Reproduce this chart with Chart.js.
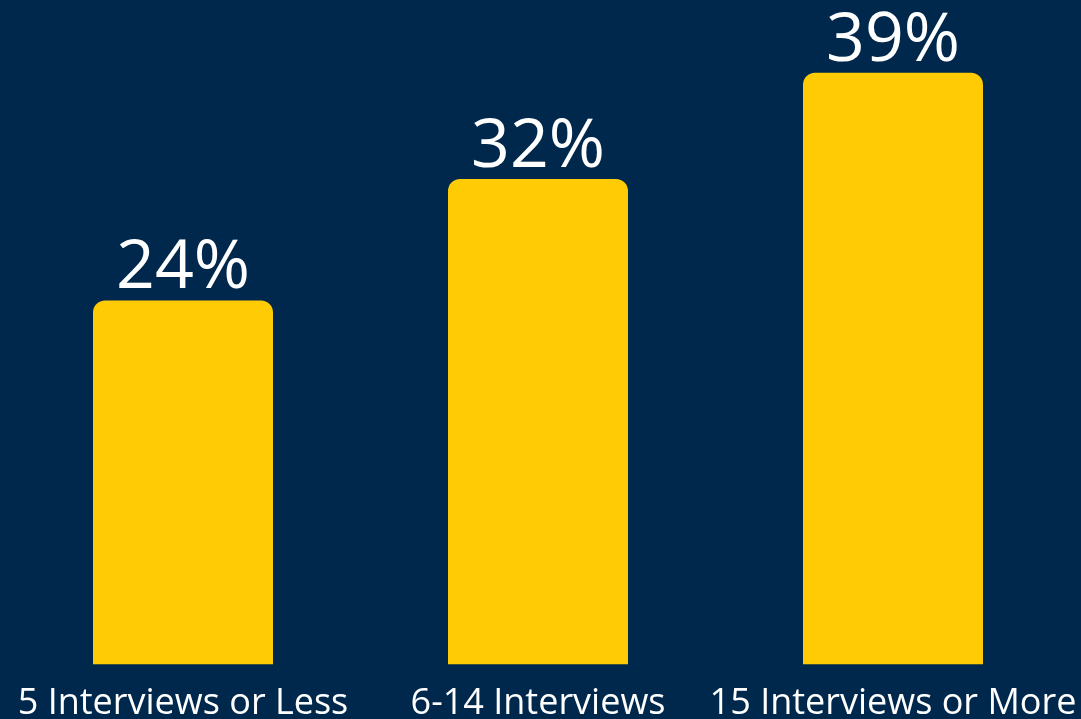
<!DOCTYPE html>
<html>
<head>
<meta charset="utf-8">
<script src="https://cdn.jsdelivr.net/npm/chart.js@4.4.1/dist/chart.umd.min.js"></script>
<style>
  html, body { margin: 0; padding: 0; background: #00284C; }
  #wrap { width: 1081px; height: 719px; position: relative; }
</style>
</head>
<body>
<div id="wrap"><canvas id="c" width="1081" height="719"></canvas></div>
<script>
const categories = ["5 Interviews or Less", "6-14 Interviews", "15 Interviews or More"];
const values = [24, 32, 39];
const valueLabels = ["24%", "32%", "39%"];

const valueLabelPlugin = {
  id: 'valueLabels',
  afterDatasetsDraw(chart) {
    const ctx = chart.ctx;
    const meta = chart.getDatasetMeta(0);
    ctx.save();
    ctx.fillStyle = '#FFFFFF';
    ctx.font = '400 68px "Open Sans"';
    ctx.textAlign = 'center';
    ctx.textBaseline = 'alphabetic';
    meta.data.forEach((bar, i) => {
      ctx.fillText(valueLabels[i], bar.x, bar.y - 12);
    });
    ctx.restore();
  }
};

const bgPlugin = {
  id: 'bg',
  beforeDraw(chart) {
    const ctx = chart.ctx;
    ctx.save();
    ctx.fillStyle = '#00284C';
    ctx.fillRect(0, 0, chart.width, chart.height);
    ctx.restore();
  }
};

new Chart(document.getElementById('c'), {
  type: 'bar',
  data: {
    labels: categories,
    datasets: [{
      data: values,
      backgroundColor: '#FFCB05',
      borderRadius: 12,
      borderSkipped: 'bottom',
      categoryPercentage: 1.0,
      barPercentage: 0.507
    }]
  },
  options: {
    responsive: false,
    animation: false,
    layout: { padding: { left: 5.5, right: 10.5, top: 0, bottom: -16.8 } },
    plugins: { legend: { display: false }, tooltip: { enabled: false } },
    scales: {
      x: {
        grid: { display: false },
        border: { display: false },
        afterFit(scale) { scale.paddingLeft = 0; scale.paddingRight = 0; },
        ticks: {
          color: '#FFFFFF',
          font: { family: '"Open Sans"', size: 36 },
          padding: 10,
          maxRotation: 0,
          autoSkip: false
        }
      },
      y: {
        display: false,
        min: 0,
        max: 43.8
      }
    }
  },
  plugins: [bgPlugin, valueLabelPlugin]
});
</script>
</body>
</html>
